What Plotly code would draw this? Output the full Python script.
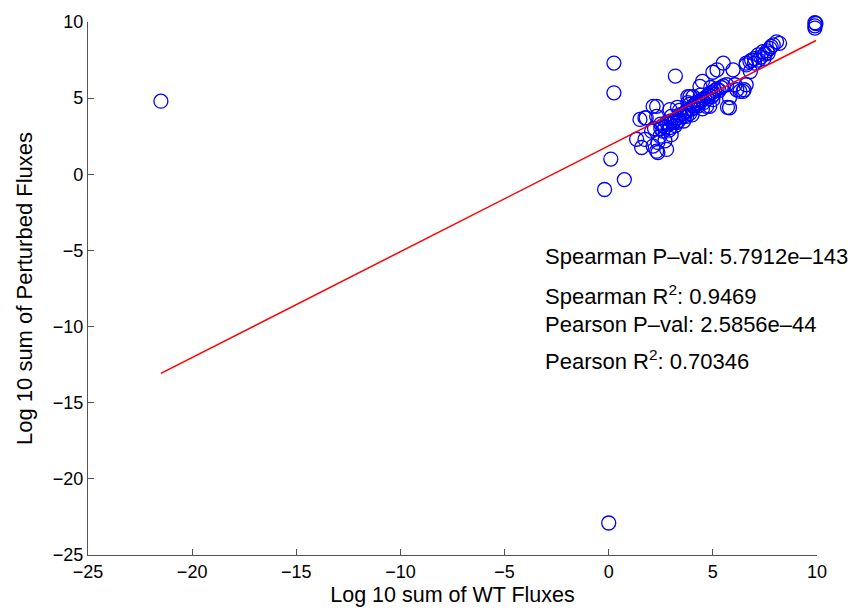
import plotly.graph_objects as go

# ---- data ----
wt_flux = [
    -21.5, 0.0, 0.25, 0.25, 0.1, -0.2, 0.75, 3.2, 9.9, 9.9, 9.9, 9.95,
    1.34, 1.58, 1.74, 2.13, 2.36, 2.3, 2.78, 2.36, 2.46, 2.06, 2.6, 2.94, 1.5, 1.8, 1.74, 2.3,
    2.13, 2.3, 2.94, 3.26, 3.74, 2.7, 3.0, 2.5, 2.2,
    2.5, 2.6, 2.7, 2.8, 2.9, 3.0, 3.1, 3.2, 3.3, 3.35, 3.4, 3.5, 3.6, 3.65, 3.7, 3.8, 3.9, 4.0,
    4.05, 4.1, 4.2, 4.3, 4.35, 4.4, 4.5, 4.55, 4.6, 4.7, 4.75, 4.8, 4.9, 4.95, 5.0, 5.05, 5.1,
    5.2, 5.3, 5.4, 5.5, 3.0, 3.4, 3.9, 4.4, 4.9, 3.2, 3.6, 4.0, 4.5, 5.0, 2.9, 3.3, 3.8,
    3.9, 4.2, 4.05, 4.7, 4.85, 3.8, 4.5, 4.38, 5.0, 5.2, 5.5, 5.97, 5.66, 6.06, 6.6, 6.3, 6.45,
    5.8, 5.8, 5.7, 6.15, 6.5,
    6.6, 6.86, 7.0, 6.6, 6.78, 7.17, 7.4, 7.74, 7.9, 8.06, 7.3, 7.5, 7.6, 7.2, 7.8, 8.2, 7.0,
    7.45, 7.65, 6.8,
]
perturbed_flux = [
    4.8, -22.9, 7.3, 5.35, 1.0, -1.0, -0.35, 6.45, 9.95, 9.75, 9.6, 9.9,
    2.3, 1.76, 2.29, 1.85, 1.43, 1.52, 1.63, 2.09, 2.5, 2.83, 2.83, 3.07, 3.6, 3.7, 3.7, 3.8,
    4.46, 4.46, 4.25, 3.4, 3.8, 2.2, 2.6, 3.3, 3.0,
    3.0, 3.2, 3.1, 3.4, 3.3, 3.5, 3.4, 3.6, 3.7, 3.5, 3.9, 3.8, 4.0, 3.85, 4.1, 4.2, 4.0, 4.3,
    4.5, 4.4, 4.6, 4.5, 4.7, 4.8, 4.9, 4.7, 5.0, 5.1, 4.95, 5.2, 5.3, 5.1, 5.4, 5.25, 5.5,
    5.6, 5.5, 5.7, 5.8, 3.8, 4.2, 4.6, 5.2, 5.7, 3.2, 3.5, 3.9, 4.3, 4.9, 2.9, 4.4, 4.7,
    5.1, 4.7, 5.1, 4.46, 4.46, 5.1, 6.1, 5.77, 6.7, 6.86, 7.3, 6.86, 5.88, 5.88, 5.88, 5.44, 5.44,
    5.03, 4.37, 4.4, 5.55, 5.55,
    7.3, 7.5, 7.3, 7.18, 7.4, 7.84, 8.05, 8.27, 8.5, 8.7, 7.7, 7.9, 8.1, 7.5, 8.4, 8.6, 7.6,
    7.6, 7.95, 6.75,
]

fit_slope = 0.695
fit_intercept = 1.87

stats_lines = [
    "Spearman P\u2013val: 5.7912e\u2013143",
    "Spearman R<sup>2</sup>: 0.9469",
    "Pearson P\u2013val: 2.5856e\u201344",
    "Pearson R<sup>2</sup>: 0.70346",
]
stats_y = [-5.42, -7.9, -9.87, -12.2]
stats_x = -3.16

x_ticks = [-25, -20, -15, -10, -5, 0, 5, 10]
y_ticks = [-25, -20, -15, -10, -5, 0, 5, 10]

FONT = "Liberation Sans, Arial, sans-serif"

line_x = [min(wt_flux), max(wt_flux)]
line_y = [fit_slope * v + fit_intercept for v in line_x]

fig = go.Figure()
fig.add_trace(go.Scatter(
    x=wt_flux, y=perturbed_flux, mode="markers", cliponaxis=False,
    marker=dict(symbol="circle-open", size=14, color="#0000ff", line=dict(width=1.3, color="#0000ff")),
    showlegend=False,
))
fig.add_trace(go.Scatter(
    x=line_x, y=line_y, mode="lines",
    line=dict(color="#ff0000", width=1.5), showlegend=False,
))

for txt, yy in zip(stats_lines, stats_y):
    fig.add_annotation(x=stats_x, y=yy, text=txt, showarrow=False,
                       xanchor="left", yanchor="middle",
                       font=dict(family=FONT, size=22, color="#000000"))

axis_common = dict(
    showgrid=False, zeroline=False, showline=True, linecolor="#555555", linewidth=1.3,
    ticks="inside", ticklen=6, tickcolor="#555555", tickwidth=1,
    tickfont=dict(family=FONT, size=18, color="#000000"),
    mirror=False,
)
fig.update_xaxes(range=[-25, 10], tickvals=x_ticks,
                 title=dict(text="Log 10 sum of WT Fluxes", font=dict(family=FONT, size=21.5, color="#000000"), standoff=6),
                 **axis_common)
fig.update_yaxes(range=[-25, 10], tickvals=y_ticks,
                 title=dict(text="Log 10 sum of Perturbed Fluxes", font=dict(family=FONT, size=22, color="#000000"), standoff=14),
                 **axis_common)

fig.update_layout(
    width=855, height=615,
    margin=dict(l=88, r=38, t=22, b=56),
    plot_bgcolor="white", paper_bgcolor="white",
    font=dict(family=FONT),
)

fig.write_html("out.html")
